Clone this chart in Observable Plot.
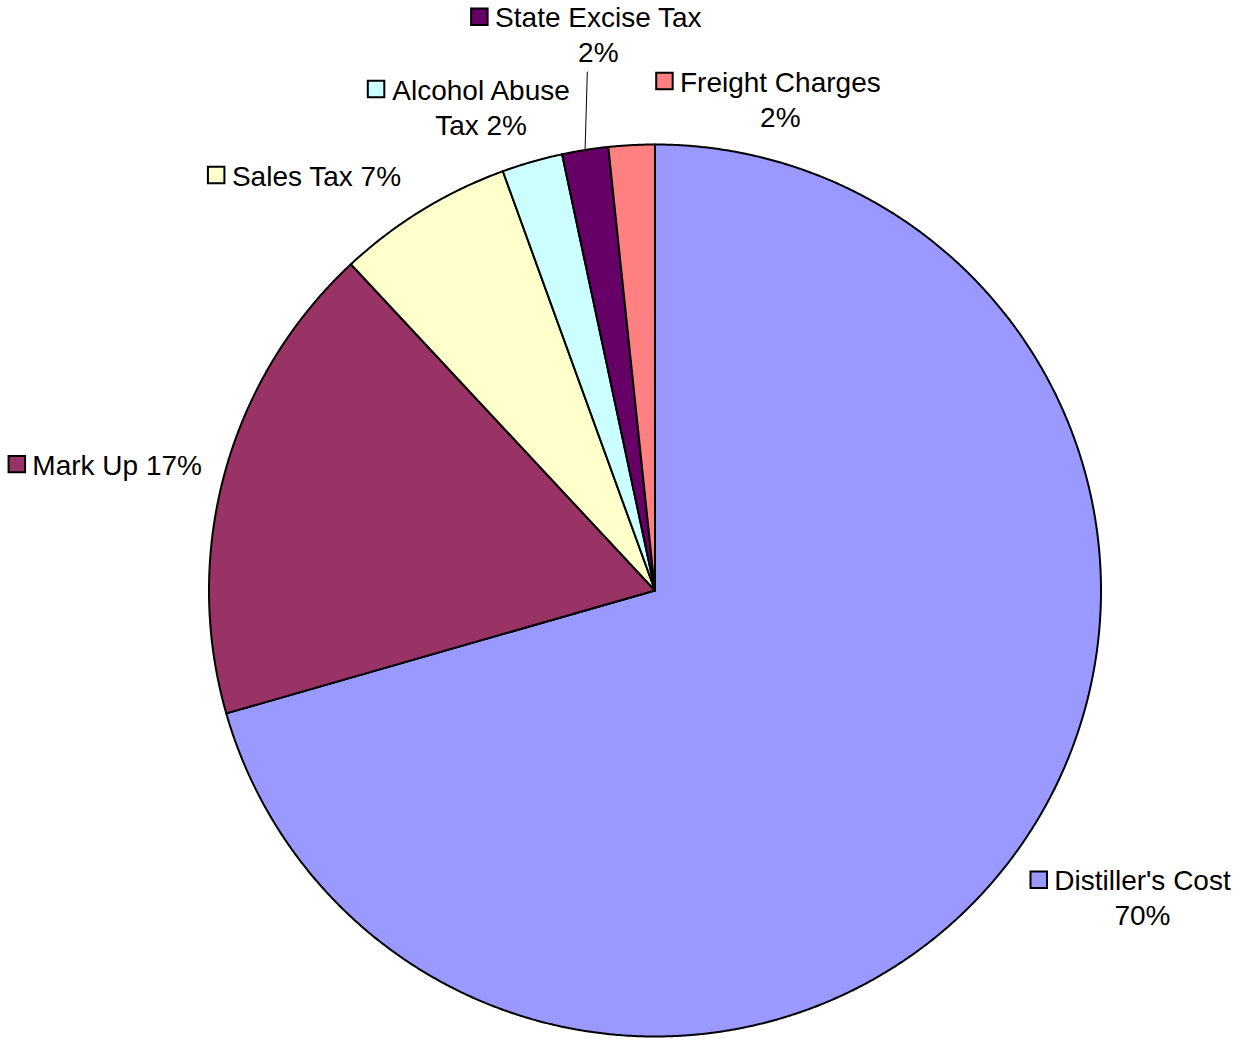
<!DOCTYPE html>
<html>
<head>
<meta charset="utf-8">
<script src="https://cdn.jsdelivr.net/npm/d3@7"></script>
<script src="https://cdn.jsdelivr.net/npm/@observablehq/plot@0.6"></script>
<style>
  html, body { margin: 0; padding: 0; background: #fff; }
  #chart svg { display: block; }
</style>
</head>
<body>
<div id="chart"></div>
<script>
// ---- data ----
const categories = ["Distiller's Cost", "Mark Up", "Sales Tax", "Alcohol Abuse Tax", "State Excise Tax", "Freight Charges"];
const values = [70.55, 17.5, 6.4, 2.2, 1.67, 1.67];
const pctLabels = ["70%", "17%", "7%", "2%", "2%", "2%"];
const colors = ["#9999FF", "#993366", "#FFFFCC", "#CCFFFF", "#660066", "#FF8080"];

// ---- layout (label anchors in radius units, word index where the label wraps) ----
const labelAnchor = [[1.093, -0.691], [-1.206, 0.280], [-0.759, 0.928], [-0.390, 1.082], [-0.127, 1.244], [0.281, 1.100]];
const labelBreak = [2, 0, 0, 2, 3, 2];
const leaderFor = "State Excise Tax";

const W = 1234, H = 1040;
const cx = 654.5, cy = 590, R = 446;
const fontSize = 28, lineHeight = 1.25;
const fontFamily = "'Liberation Sans', Arial, Helvetica, sans-serif";

const pie = d3.pie().sort(null).value(d => d.value)(categories.map((c, i) => ({category: c, value: values[i]})));

// slice polygons
const slicePts = [];
for (const s of pie) {
  const cat = s.data.category;
  slicePts.push({category: cat, x: 0, y: 0});
  const n = Math.max(4, Math.ceil((s.endAngle - s.startAngle) / (Math.PI / 720)));
  for (let k = 0; k <= n; k++) {
    const a = s.startAngle + (s.endAngle - s.startAngle) * k / n;
    slicePts.push({category: cat, x: Math.sin(a), y: Math.cos(a)});
  }
}

// labels
const canvas = document.createElement("canvas");
const ctx = canvas.getContext("2d");
ctx.font = `${fontSize}px ${fontFamily}`;
const labels = pie.map((s, i) => {
  const words = (categories[i] + " " + pctLabels[i]).split(" ");
  const b = labelBreak[i];
  const lines = b > 0 ? [words.slice(0, b).join(" "), words.slice(b).join(" ")] : [words.join(" ")];
  const [lx, ly] = labelAnchor[i];
  const w1 = ctx.measureText(lines[0]).width;
  const firstLineY = ly + ((lines.length - 1) / 2) * lineHeight * fontSize / R;
  const swX = lx - (w1 / 2 + 7 + 8.5) / R;
  const mid = (s.startAngle + s.endAngle) / 2;
  return {category: categories[i], text: lines.join("\n"), x: lx, y: ly, sx: swX, sy: firstLineY + 1.5 / R, mid, lines: lines.length};
});

const leaders = labels.filter(d => d.category === leaderFor).map(d => ({
  x1: Math.sin(d.mid), y1: Math.cos(d.mid),
  x2: Math.sin(d.mid) + 0.005, y2: d.y - ((d.lines - 1) / 2 + 0.5) * lineHeight * fontSize / R - 1 / R
}));

const chart = Plot.plot({
  width: W,
  height: H,
  marginLeft: cx - R,
  marginRight: W - (cx + R),
  marginTop: cy - R,
  marginBottom: H - (cy + R),
  x: {domain: [-1, 1], axis: null},
  y: {domain: [-1, 1], axis: null},
  color: {domain: categories, range: colors},
  style: {background: "#fff", fontFamily},
  marks: [
    Plot.line(slicePts, {x: "x", y: "y", z: "category", fill: "category", stroke: "#000", strokeWidth: 2, curve: "linear-closed", strokeLinejoin: "round"}),
    Plot.link(leaders, {x1: "x1", y1: "y1", x2: "x2", y2: "y2", stroke: "#000", strokeWidth: 1}),
    Plot.dot(labels, {x: "sx", y: "sy", symbol: "square", r: 9.3, fill: "category", stroke: "#000", strokeWidth: 2}),
    Plot.text(labels, {x: "x", y: "y", dy: -2, text: "text", fontSize, lineHeight, textAnchor: "middle", lineAnchor: "middle", fill: "#000", fontFamily})
  ]
});
document.getElementById("chart").appendChild(chart);
</script>
</body>
</html>
